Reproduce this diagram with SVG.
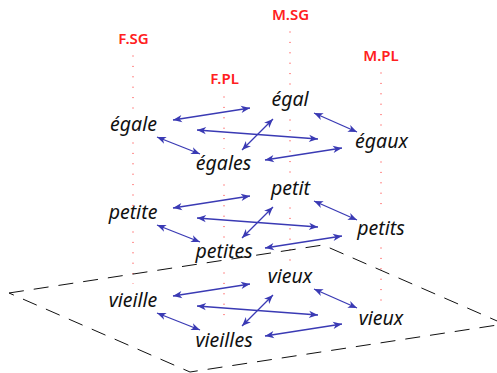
<svg xmlns="http://www.w3.org/2000/svg" width="497" height="373" viewBox="0 0 497 373">
<style>
.lab{font-family:"Noto Sans","Liberation Sans",sans-serif;font-weight:600;font-size:15px;fill:#ff2020;text-anchor:middle}
.w{font-family:"Noto Sans","Liberation Sans",sans-serif;font-style:italic;font-size:19.5px;fill:#111;text-anchor:middle}
.dot{stroke:#ff2020;stroke-width:1;stroke-dasharray:1 9.4;fill:none}
.arr{stroke:#3a3ab4;stroke-width:1.3;fill:none;marker-start:url(#ah);marker-end:url(#ah)}
.plane{stroke:#111;stroke-width:1;stroke-dasharray:15 10;fill:none}
</style>
<defs>
<marker id="ah" markerUnits="userSpaceOnUse" markerWidth="12" markerHeight="10" viewBox="-10 -5 12 10" refX="0" refY="0" orient="auto-start-reverse">
<path d="M0,0 L-9,-3.6 L-6.5,0 L-9,3.6 Z" fill="#3a3ab4"/>
</marker>
</defs>
<g id="guides">
<path class="dot" d="M133,55.5V109 M133,142.5V206 M133,231.5V284"/>
<path class="dot" d="M224,96.5V149 M224,184.5V238 M224,272.5V324"/>
<path class="dot" d="M290,31.5V85 M290,119.5V174 M290,207.5V261"/>
<path class="dot" d="M381,72.5V126 M381,161.5V213 M381,247.5V301"/>
</g>
<g id="labels">
<text class="lab" x="133.5" y="44">F.SG</text>
<text class="lab" x="224.5" y="84">F.PL</text>
<text class="lab" x="290.5" y="20">M.SG</text>
<text class="lab" x="381" y="61">M.PL</text>
</g>
<g id="connectors">
<g id="layer1">
<line class="arr" x1="173" y1="120" x2="250" y2="108"/>
<line class="arr" x1="197" y1="130" x2="318" y2="139"/>
<line class="arr" x1="157" y1="137" x2="200" y2="154"/>
<line class="arr" x1="242" y1="150" x2="273" y2="119"/>
<line class="arr" x1="265" y1="160" x2="342" y2="148"/>
<line class="arr" x1="314" y1="113" x2="357" y2="132"/>
</g>
<g id="layer2" transform="translate(0,88)">
<line class="arr" x1="173" y1="120" x2="250" y2="108"/>
<line class="arr" x1="197" y1="130" x2="318" y2="139"/>
<line class="arr" x1="157" y1="137" x2="200" y2="154"/>
<line class="arr" x1="242" y1="150" x2="273" y2="119"/>
<line class="arr" x1="265" y1="160" x2="342" y2="148"/>
<line class="arr" x1="314" y1="113" x2="357" y2="132"/>
</g>
<g id="layer3" transform="translate(0,176)">
<line class="arr" x1="173" y1="120" x2="250" y2="108"/>
<line class="arr" x1="197" y1="130" x2="318" y2="139"/>
<line class="arr" x1="157" y1="137" x2="200" y2="154"/>
<line class="arr" x1="242" y1="150" x2="273" y2="119"/>
<line class="arr" x1="265" y1="160" x2="342" y2="148"/>
<line class="arr" x1="314" y1="113" x2="357" y2="132"/>
</g>
</g>
<g id="egale"><text class="w" x="133.5" y="131">égale</text></g>
<g id="egales"><text class="w" x="223.5" y="170">égales</text></g>
<g id="egal"><text class="w" x="290" y="106">égal</text></g>
<g id="egaux"><text class="w" x="381.5" y="148">égaux</text></g>
<g id="petite"><text class="w" x="133" y="219">petite</text></g>
<g id="petites"><text class="w" x="224" y="258">petites</text></g>
<g id="petit"><text class="w" x="290.5" y="195">petit</text></g>
<g id="petits"><text class="w" x="381" y="235">petits</text></g>
<g id="vieille"><text class="w" x="133" y="307">vieille</text></g>
<g id="vieilles"><text class="w" x="224" y="347">vieilles</text></g>
<g id="vieux-sg"><text class="w" x="290" y="283">vieux</text></g>
<g id="vieux-pl"><text class="w" x="381" y="325">vieux</text></g>
<path id="plane" class="plane" d="M9,293 L323,245 L504,324 L190,372 Z"/>
</svg>
